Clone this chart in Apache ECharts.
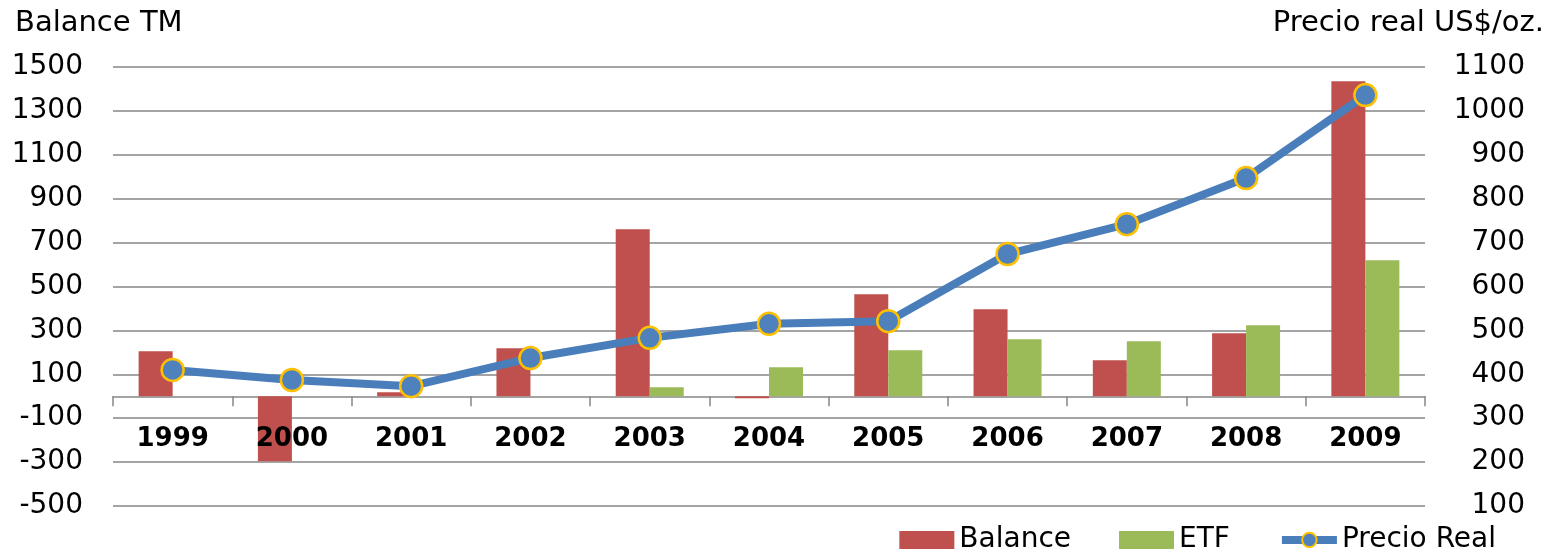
<!DOCTYPE html>
<html>
<head>
  <meta charset="UTF-8">
  <script src="https://cdn.jsdelivr.net/npm/echarts@6/dist/echarts.min.js"></script>
  <style>
    html, body { margin: 0; padding: 0; background: #fff; }
    #chart { width: 1561px; height: 555px; }
  </style>
</head>
<body>
  <div id="chart"></div>
  <script>
    var years = ['1999', '2000', '2001', '2002', '2003', '2004', '2005', '2006', '2007', '2008', '2009'];
    var balance = [205, -296, 18, 219, 761, -9, 465, 396, 164, 287, 1435];
    var etf = [null, null, null, null, 41, 132, 210, 260, 251, 323, 620];
    var precio = [410, 387, 373, 437, 483, 515, 521, 674, 742, 847, 1036];

    var font = 'DejaVu Sans';
    var plain = function (v) { return String(v); };
    var chart = echarts.init(document.getElementById('chart'));
    chart.setOption({
      animation: false,
      backgroundColor: '#fff',
      textStyle: { fontFamily: font },
      title: [
        { text: 'Balance TM', left: 10, top: 4,
          textStyle: { fontFamily: font, fontSize: 29, fontWeight: 'normal', color: '#000' } },
        { text: 'Precio real US$/oz.', right: 12, top: 4,
          textStyle: { fontFamily: font, fontSize: 29, fontWeight: 'normal', color: '#000' } }
      ],
      legend: {
        bottom: -4, right: 60,
        itemWidth: 55, itemHeight: 18, itemGap: 48,
        textStyle: { fontFamily: font, fontSize: 28, color: '#000' },
        data: [
          { name: 'Balance', icon: 'rect' },
          { name: 'ETF', icon: 'rect' },
          { name: 'Precio Real', lineStyle: { width: 8, color: '#4A7EBB' } }
        ]
      },
      grid: { left: 113, right: 136, top: 67, bottom: 49, outerBoundsMode: 'none', containLabel: false },
      xAxis: [
        {
          type: 'category',
          data: years,
          axisLine: { onZero: true, lineStyle: { color: '#868686', width: 1.5 } },
          axisTick: { show: true, length: 10, lineStyle: { color: '#868686', width: 1.5 } },
          axisLabel: { show: false }
        },
        {
          type: 'category',
          data: years,
          position: 'bottom',
          offset: -110,
          z: 10,
          axisLine: { show: false },
          axisTick: { show: false },
          axisLabel: { margin: 30, fontSize: 26, fontWeight: 'bold', color: '#000', fontFamily: font }
        }
      ],
      yAxis: [
        {
          type: 'value', min: -500, max: 1500, interval: 200,
          axisLine: { show: false }, axisTick: { show: false },
          splitLine: { lineStyle: { color: '#868686', width: 1.5 } },
          axisLabel: { margin: 30, fontSize: 28, color: '#000', fontFamily: font, formatter: plain }
        },
        {
          type: 'value', min: 100, max: 1100, interval: 100,
          axisLine: { show: false }, axisTick: { show: false },
          splitLine: { show: false },
          axisLabel: { margin: 100, align: 'right', fontSize: 28, color: '#000', fontFamily: font, formatter: plain }
        }
      ],
      series: [
        {
          name: 'Balance', type: 'bar', data: balance,
          barWidth: 34, barGap: '0%',
          itemStyle: { color: '#C0504D' }
        },
        {
          name: 'ETF', type: 'bar', data: etf,
          barWidth: 34, barGap: '0%',
          itemStyle: { color: '#9BBB59' }
        },
        {
          name: 'Precio Real', type: 'line', yAxisIndex: 1, data: precio,
          symbol: 'circle', symbolSize: 22,
          lineStyle: { color: '#4A7EBB', width: 8 },
          itemStyle: { color: '#4F81BD', borderColor: '#FFC000', borderWidth: 2.5 }
        }
      ]
    });
  </script>
</body>
</html>
